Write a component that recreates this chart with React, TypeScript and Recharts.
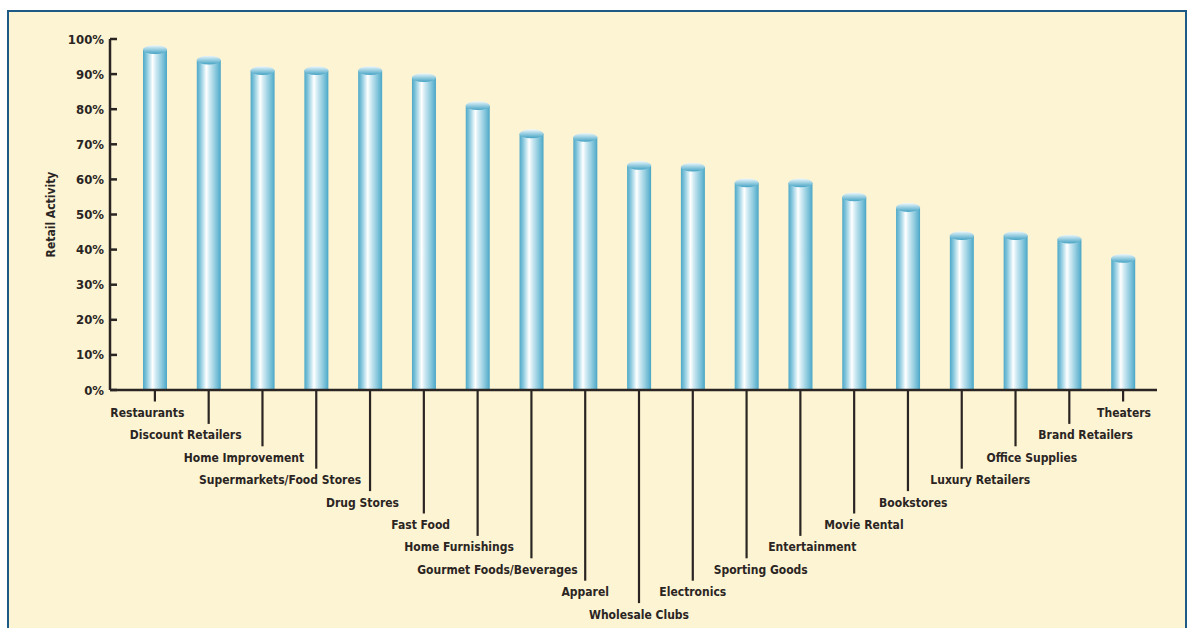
import { BarChart, Bar, XAxis, YAxis, Label } from 'recharts';

const categories = [
  'Restaurants',
  'Discount Retailers',
  'Home Improvement',
  'Supermarkets/Food Stores',
  'Drug Stores',
  'Fast Food',
  'Home Furnishings',
  'Gourmet Foods/Beverages',
  'Apparel',
  'Wholesale Clubs',
  'Electronics',
  'Sporting Goods',
  'Entertainment',
  'Movie Rental',
  'Bookstores',
  'Luxury Retailers',
  'Office Supplies',
  'Brand Retailers',
  'Theaters',
];

const retailActivity = [97, 94, 91, 91, 91, 89, 81, 73, 72, 64, 63.5, 59, 59, 55, 52, 44, 44, 43, 37.5];

const yTicks = [0, 10, 20, 30, 40, 50, 60, 70, 80, 90, 100];

const data = categories.map((name, i) => ({ name, value: retailActivity[i] }));

const FONT = "'Liberation Sans Narrow', 'DejaVu Sans Condensed', 'Roboto Condensed', sans-serif";
const INK = '#2a2523';

// staircase label: depth grows toward the middle of the axis
function CategoryTick(props: any) {
  const { x, y, payload } = props;
  const i = payload.index ?? props.index;
  const n = categories.length;
  const level = Math.min(i, n - 1 - i);
  const center = y + 22.5 + level * 22.4;
  const lineEnd = center - 11;
  const w = String(payload.value).length * 6.6;
  let dx = 0;
  if (i < 8) dx = -Math.max(0, w - 50) / 3;
  if (i > 10) dx = Math.max(0, w - 50) / 3;
  return (
    <g>
      <line x1={x} y1={y} x2={x} y2={lineEnd} stroke={INK} strokeWidth={2.2} />
      <text
        x={x + dx}
        y={center}
        dy={4.5}
        textAnchor="middle"
        fontFamily={FONT}
        fontWeight="bold"
        fontSize={12}
        fill={INK}
      >
        {payload.value}
      </text>
    </g>
  );
}

function PercentTick(props: any) {
  const { x, y, payload } = props;
  return (
    <g>
      <line x1={x + 6} y1={y} x2={x + 13} y2={y} stroke={INK} strokeWidth={2.5} />
      <text x={x} y={y} dy={4.5} textAnchor="end" fontFamily={FONT} fontWeight="bold" fontSize={13} fill={INK}>
        {`${payload.value}%`}
      </text>
    </g>
  );
}

function EndTick(props: any) {
  const { x, y } = props;
  return <line x1={x} y1={y + 1} x2={x} y2={y - 8} stroke={INK} strokeWidth={2.5} />;
}

function Cylinder(props: any) {
  const { x, y, width, height } = props;
  if (!height || height <= 0) return null;
  return (
    <g>
      <rect x={x} y={y} width={width} height={height} fill="url(#cyl)" />
      <ellipse cx={x + width / 2} cy={y} rx={width / 2} ry={4.4} fill="url(#cap)" />
    </g>
  );
}

function AxisTitle(props: any) {
  const vb = props.viewBox;
  const cx = vb.x + 1;
  const cy = vb.y + vb.height / 2;
  return (
    <text
      x={cx}
      y={cy}
      transform={`rotate(-90 ${cx} ${cy})`}
      textAnchor="middle"
      dominantBaseline="central"
      fontFamily={FONT}
      fontWeight="bold"
      fontSize={12}
      fill={INK}
    >
      Retail Activity
    </text>
  );
}

export default function App() {
  return (
    <div style={{ position: 'fixed', left: 0, top: 0, width: 1191, height: 628, background: '#fff', overflow: 'hidden' }}>
      <div
        style={{
          position: 'absolute',
          left: 7,
          top: 10,
          width: 1180,
          height: 640,
          boxSizing: 'border-box',
          border: '2px solid #1d5a85',
          background: '#fdf4d3',
        }}
      />
      <div style={{ position: 'absolute', left: 0, top: 0 }}>
        <BarChart width={1191} height={628} data={data} margin={{ top: 39, right: 34, bottom: 38, left: 50 }}>
          <defs>
            <linearGradient id="cyl" x1="0" y1="0" x2="1" y2="0">
              <stop offset="0%" stopColor="#4ea9c8" />
              <stop offset="12%" stopColor="#79c0d8" />
              <stop offset="30%" stopColor="#cde9f2" />
              <stop offset="40%" stopColor="#ffffff" />
              <stop offset="52%" stopColor="#d4ecf4" />
              <stop offset="75%" stopColor="#93cde0" />
              <stop offset="92%" stopColor="#62b4d0" />
              <stop offset="100%" stopColor="#4aa5c5" />
            </linearGradient>
            <linearGradient id="cap" x1="0" y1="0" x2="0" y2="1">
              <stop offset="0%" stopColor="#eef8fb" />
              <stop offset="40%" stopColor="#a8d6e6" />
              <stop offset="100%" stopColor="#45a3c4" />
            </linearGradient>
          </defs>
          <XAxis
            dataKey="name"
            height={200}
            interval={0}
            padding={{ left: 18, right: 7 }}
            axisLine={{ stroke: INK, strokeWidth: 2.5 }}
            tickLine={false}
            tickSize={0}
            tickMargin={0}
            tick={CategoryTick}
          />
          <YAxis
            yAxisId="l"
            width={60}
            domain={[0, 100]}
            ticks={yTicks}
            interval={0}
            axisLine={{ stroke: INK, strokeWidth: 2.5 }}
            tickLine={false}
            tickSize={0}
            tickMargin={6}
            tick={PercentTick}
          >
            <Label content={AxisTitle} />
          </YAxis>
          <YAxis
            yAxisId="r"
            orientation="right"
            width={0}
            domain={[0, 100]}
            ticks={[0]}
            axisLine={false}
            tickLine={false}
            tickSize={0}
            tickMargin={0}
            tick={EndTick}
          />
          <Bar yAxisId="l" dataKey="value" barSize={24} shape={Cylinder} isAnimationActive={false} />
        </BarChart>
      </div>
    </div>
  );
}
